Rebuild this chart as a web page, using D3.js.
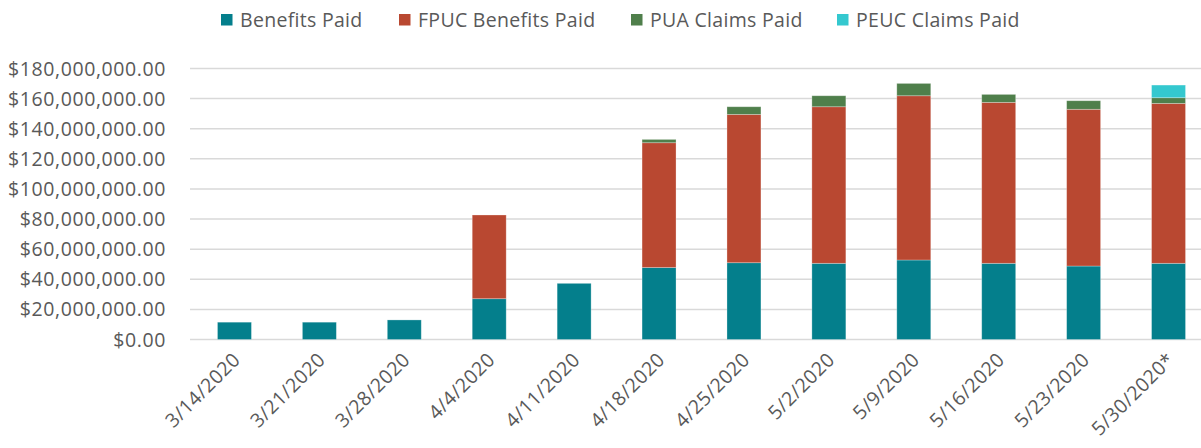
<!DOCTYPE html>
<html>
<head>
<meta charset="utf-8">
<script src="https://cdn.jsdelivr.net/npm/d3@7"></script>
<style>
  body { margin: 0; background: #fff; }
  text { font-family: "Open Sans", sans-serif; fill: #595959; }
</style>
</head>
<body>
<div id="chart"></div>
<script>
// data (millions of dollars)
const weeks = ["3/14/2020", "3/21/2020", "3/28/2020", "4/4/2020", "4/11/2020", "4/18/2020",
	"4/25/2020", "5/2/2020", "5/9/2020", "5/16/2020", "5/23/2020", "5/30/2020*"];
const seriesNames = ["Benefits Paid", "FPUC Benefits Paid", "PUA Claims Paid", "PEUC Claims Paid"];
const benefitsPaid = [11.5, 11.5, 13, 27.1, 37.3, 47.8, 51, 50.6, 52.8, 50.6, 48.8, 50.6];
const fpucPaid = [0, 0, 0, 55.6, 0, 82.9, 98.5, 104, 109.1, 106.9, 104.1, 106.2];
const puaPaid = [0, 0, 0, 0, 0, 2.2, 5.1, 7.3, 8.2, 5.3, 5.7, 3.8];
const peucPaid = [0, 0, 0, 0, 0, 0, 0, 0, 0, 0, 0, 8.4];
const yTicks = [0, 20, 40, 60, 80, 100, 120, 140, 160, 180];

const colors = ["#047f8c", "#b94831", "#4f7f4b", "#34c8cf"];

const W = 1201, H = 448;
const svg = d3.select("#chart").append("svg")
	.attr("width", W).attr("height", H);

// build rows for the stack
const rows = weeks.map((w, i) => ({
	week: w,
	"Benefits Paid": benefitsPaid[i],
	"FPUC Benefits Paid": fpucPaid[i],
	"PUA Claims Paid": puaPaid[i],
	"PEUC Claims Paid": peucPaid[i]
}));
const stacked = d3.stack().keys(seriesNames)(rows);

const x = d3.scaleBand()
	.domain(weeks)
	.range([192, 1211])
	.paddingInner(0.6)
	.paddingOuter(0.3);

const y = d3.scaleLinear()
	.domain([0, 180])
	.range([339.5, 68.5]);

const color = d3.scaleOrdinal().domain(seriesNames).range(colors);

// gridlines
svg.append("g")
	.selectAll("line")
	.data(yTicks)
	.join("line")
	.attr("x1", 190)
	.attr("x2", W)
	.attr("y1", d => y(d))
	.attr("y2", d => y(d))
	.attr("stroke", "#d9d9d9")
	.attr("stroke-width", 1.5);

// y axis labels
const fmt = d3.format("$,.2f");
svg.append("g")
	.selectAll("text")
	.data(yTicks)
	.join("text")
	.attr("x", 166)
	.attr("y", d => y(d))
	.attr("dy", "0.36em")
	.attr("text-anchor", "end")
	.style("font-size", "19.5px")
	.style("letter-spacing", "0.6px")
	.text(d => fmt(d * 1e6));

// bars
svg.append("g")
	.selectAll("g")
	.data(stacked)
	.join("g")
	.attr("fill", d => color(d.key))
	.selectAll("rect")
	.data(d => d)
	.join("rect")
	.attr("x", d => x(d.data.week))
	.attr("width", x.bandwidth())
	.attr("y", d => y(d[1]))
	.attr("height", d => y(d[0]) - y(d[1]))
	.attr("stroke", "#ffffff")
	.attr("stroke-opacity", 0.35)
	.attr("stroke-width", 0.8);

// x labels, rotated
svg.append("g")
	.selectAll("text")
	.data(weeks)
	.join("text")
	.attr("text-anchor", "end")
	.attr("transform", d => `translate(${x(d) + x.bandwidth() / 2 + 7},${361}) rotate(-45)`)
	.style("font-size", "19.5px")
	.style("letter-spacing", "0.4px")
	.text(d => d);

// legend
const legendX = [221, 399, 631, 837];
const legend = svg.append("g")
	.selectAll("g")
	.data(seriesNames)
	.join("g")
	.attr("transform", (d, i) => `translate(${legendX[i]},0)`);
legend.append("rect")
	.attr("x", 0).attr("y", 14)
	.attr("width", 11.5).attr("height", 11.5)
	.attr("fill", d => color(d));
legend.append("text")
	.attr("x", 19)
	.attr("y", 26.5)
	.style("font-size", "19.5px")
	.style("letter-spacing", "0.3px")
	.text(d => d);
</script>
</body>
</html>
